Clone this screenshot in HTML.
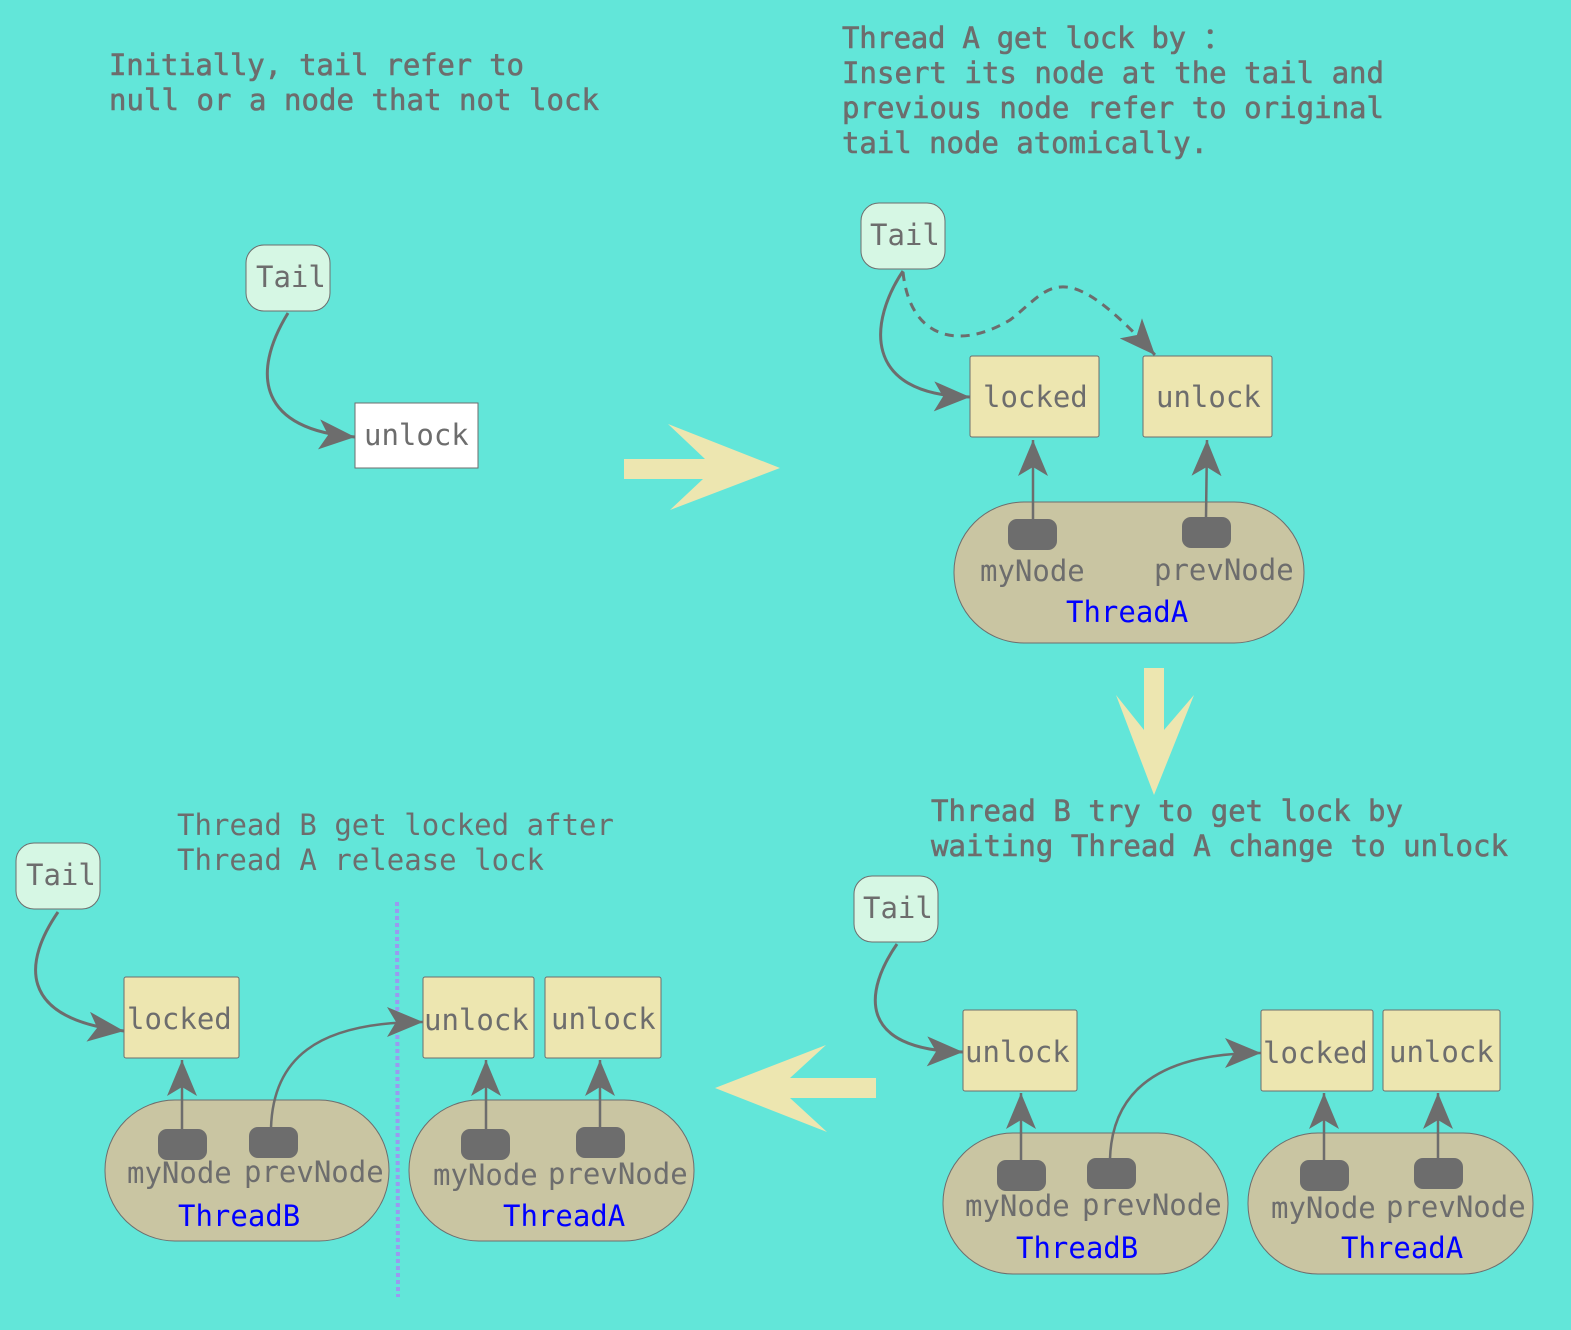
<!DOCTYPE html>
<html><head><meta charset="utf-8"><style>
html,body{margin:0;padding:0;background:#62e6d9;}
svg{display:block;}
text{font-family:"DejaVu Sans Mono","Liberation Mono",monospace;font-size:29px;fill:#6d6d6d;}
.t{font-size:29px;stroke:#6d6d6d;stroke-width:0.6px;}
.blue{fill:#0000ff;}
.box{fill:#ede6b0;stroke:#6d6d6d;stroke-width:1;}
.tail{fill:#d6f7e4;stroke:#6d6d6d;stroke-width:1;}
.thr{fill:#c9c5a2;stroke:#6d6d6d;stroke-width:1;}
.pad{fill:#6d6d6d;}
.ln{fill:none;stroke:#6d6d6d;stroke-width:3;}
.ln2{fill:none;stroke:#6d6d6d;stroke-width:2.5;}
.big{fill:#ede6b0;}
</style></head><body>
<svg width="1571" height="1330" viewBox="0 0 1571 1330" xmlns="http://www.w3.org/2000/svg">
<defs>
<marker id="ah" markerUnits="userSpaceOnUse" markerWidth="40" markerHeight="34" refX="36" refY="15" orient="auto">
<path d="M0,0 L36,15 L0,30 L9,15 z" fill="#6d6d6d"/>
</marker>
</defs>
<rect width="1571" height="1330" fill="#62e6d9"/>

<!-- captions -->
<text class="t" x="109" y="75" textLength="415" lengthAdjust="spacing">Initially, tail refer to</text>
<text class="t" x="109" y="110" textLength="490" lengthAdjust="spacing">null or a node that not lock</text>
<text class="t" x="842" y="48" textLength="390" lengthAdjust="spacing">Thread A get lock by ：</text>
<text class="t" x="842" y="83" textLength="542" lengthAdjust="spacing">Insert its node at the tail and</text>
<text class="t" x="842" y="118" textLength="542" lengthAdjust="spacing">previous node refer to original</text>
<text class="t" x="842" y="153" textLength="366" lengthAdjust="spacing">tail node atomically.</text>
<text class="t" x="931" y="821" textLength="472" lengthAdjust="spacing">Thread B try to get lock by</text>
<text class="t" x="931" y="856" textLength="577" lengthAdjust="spacing">waiting Thread A change to unlock</text>
<text x="177" y="835" textLength="437" lengthAdjust="spacing">Thread B get locked after</text>
<text x="177" y="870" textLength="367" lengthAdjust="spacing">Thread A release lock</text>

<!-- big arrows -->
<polygon class="big" points="624,459 705,459 668,424 780,468 670,510 703,479 624,479"/>
<polygon class="big" points="1144,668 1164,668 1164,730 1194,695 1154,795 1116,695 1144,730"/>
<polygon class="big" points="876,1078 790,1078 826,1045 715,1088 827,1132 790,1098 876,1098"/>

<!-- panel 1 -->
<rect class="tail" x="246" y="245" width="84" height="66" rx="18"/>
<text x="256" y="287">Tail</text>
<rect x="355" y="403" width="123" height="65" fill="#fff" stroke="#6d6d6d"/>
<text x="364" y="445">unlock</text>
<path class="ln" d="M288,313 C250,375 260,430 355,437" marker-end="url(#ah)"/>

<!-- panel 2 -->
<rect class="tail" x="861" y="203" width="84" height="66" rx="18"/>
<text x="870" y="245">Tail</text>
<rect class="box" x="970" y="356" width="129" height="81" rx="2"/>
<text x="983" y="407">locked</text>
<rect class="box" x="1143" y="356" width="129" height="81" rx="2"/>
<text x="1156" y="407">unlock</text>
<path class="ln" d="M903,271 C870,320 860,395 970,397" marker-end="url(#ah)"/>
<path class="ln" d="M903,272 C910,340 960,350 1010,320 C1050,290 1060,250 1155,355" stroke-dasharray="9,7" marker-end="url(#ah)"/>
<rect class="thr" x="954" y="502" width="350" height="141" rx="70"/>
<rect class="pad" x="1008" y="519" width="49" height="31" rx="9"/>
<rect class="pad" x="1182" y="517" width="49" height="31" rx="9"/>
<path class="ln2" d="M1033,519 L1033,440" marker-end="url(#ah)"/>
<path class="ln2" d="M1206,518 L1207,440" marker-end="url(#ah)"/>
<text x="980" y="581">myNode</text>
<text x="1154" y="580">prevNode</text>
<text class="blue" x="1066" y="622">ThreadA</text>

<!-- panel 3 (bottom right) -->
<rect class="tail" x="854" y="876" width="84" height="66" rx="18"/>
<text x="863" y="918">Tail</text>
<rect class="box" x="963" y="1010" width="114" height="81" rx="2"/>
<text x="965" y="1062">unlock</text>
<rect class="box" x="1261" y="1010" width="112" height="81" rx="2"/>
<text x="1263" y="1063">locked</text>
<rect class="box" x="1383" y="1010" width="117" height="81" rx="2"/>
<text x="1389" y="1062">unlock</text>
<path class="ln" d="M897,944 C865,990 855,1050 963,1052" marker-end="url(#ah)"/>
<rect class="thr" x="943" y="1133" width="285" height="141" rx="70"/>
<rect class="thr" x="1248" y="1133" width="285" height="141" rx="70"/>
<rect class="pad" x="997" y="1160" width="49" height="31" rx="9"/>
<rect class="pad" x="1087" y="1158" width="49" height="31" rx="9"/>
<rect class="pad" x="1300" y="1160" width="49" height="31" rx="9"/>
<rect class="pad" x="1414" y="1158" width="49" height="31" rx="9"/>
<path class="ln2" d="M1021,1160 L1021,1093" marker-end="url(#ah)"/>
<path class="ln2" d="M1110,1159 C1112,1090 1160,1053 1261,1053" marker-end="url(#ah)"/>
<path class="ln2" d="M1324,1160 L1324,1093" marker-end="url(#ah)"/>
<path class="ln2" d="M1438,1159 L1438,1093" marker-end="url(#ah)"/>
<text x="965" y="1216">myNode</text>
<text x="1082" y="1215">prevNode</text>
<text class="blue" x="1016" y="1258">ThreadB</text>
<text x="1271" y="1218">myNode</text>
<text x="1386" y="1217">prevNode</text>
<text class="blue" x="1341" y="1258">ThreadA</text>

<!-- panel 4 (bottom left) -->
<line x1="397" y1="902" x2="398" y2="1297" stroke="#9a9af0" stroke-width="4" stroke-dasharray="4,3"/>
<rect class="tail" x="16" y="843" width="84" height="66" rx="18"/>
<text x="26" y="885">Tail</text>
<rect class="box" x="124" y="977" width="115" height="81" rx="2"/>
<text x="127" y="1029">locked</text>
<rect class="box" x="423" y="977" width="111" height="81" rx="2"/>
<text x="424" y="1030">unlock</text>
<rect class="box" x="545" y="977" width="116" height="81" rx="2"/>
<text x="551" y="1029">unlock</text>
<path class="ln" d="M58,912 C25,960 15,1018 124,1031" marker-end="url(#ah)"/>
<rect class="thr" x="105" y="1100" width="284" height="141" rx="70"/>
<rect class="thr" x="409" y="1100" width="285" height="141" rx="70"/>
<rect class="pad" x="158" y="1129" width="49" height="31" rx="9"/>
<rect class="pad" x="249" y="1127" width="49" height="31" rx="9"/>
<rect class="pad" x="461" y="1129" width="49" height="31" rx="9"/>
<rect class="pad" x="576" y="1127" width="49" height="31" rx="9"/>
<path class="ln2" d="M182,1129 L182,1060" marker-end="url(#ah)"/>
<path class="ln2" d="M271,1128 C273,1060 315,1022 423,1022" marker-end="url(#ah)"/>
<path class="ln2" d="M486,1129 L486,1060" marker-end="url(#ah)"/>
<path class="ln2" d="M600,1128 L600,1060" marker-end="url(#ah)"/>
<text x="127" y="1183">myNode</text>
<text x="244" y="1182">prevNode</text>
<text class="blue" x="178" y="1226">ThreadB</text>
<text x="433" y="1185">myNode</text>
<text x="548" y="1184">prevNode</text>
<text class="blue" x="503" y="1226">ThreadA</text>
</svg>
</body></html>
